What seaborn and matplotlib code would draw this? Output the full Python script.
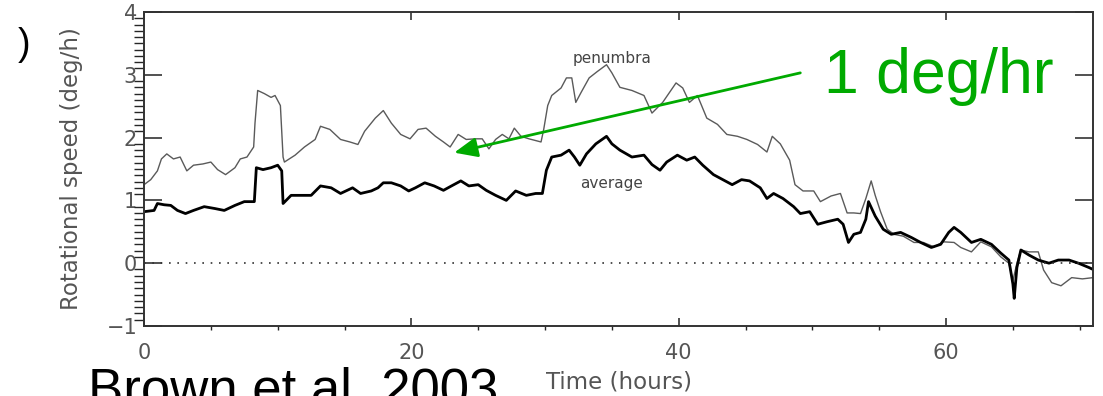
import numpy as np
import pandas as pd
import seaborn as sns
import matplotlib.pyplot as plt
from matplotlib.ticker import MultipleLocator

# values
time_pen = [0.0, 0.5, 1.0, 1.3, 1.7, 2.2, 2.7, 3.2, 3.7, 4.4, 5.0, 5.5, 6.1, 6.8, 7.2, 7.7, 8.2, 8.3, 8.5,
            9.0, 9.5, 9.8, 10.2, 10.4, 10.5, 11.3, 12.0, 12.8, 13.2, 13.9, 14.7, 15.4, 16.0, 16.5, 17.3,
            17.9, 18.5, 19.2, 19.9, 20.5, 21.1, 21.8, 22.4, 22.9, 23.5, 24.1, 24.8, 25.3, 25.8, 26.3,
            26.8, 27.3, 27.7, 28.2, 28.8, 29.7, 29.9, 30.2, 30.5, 31.2, 31.6, 32.0, 32.3, 32.7, 33.3,
            33.9, 34.6, 35.0, 35.6, 36.5, 37.4, 38.0, 38.8, 39.8, 40.3, 40.8, 41.4, 42.1, 42.9, 43.6,
            44.4, 45.1, 45.9, 46.6, 47.0, 47.6, 48.3, 48.7, 49.3, 50.1, 50.6, 51.4, 52.1, 52.6, 53.1,
            53.6, 54.0, 54.4, 54.7, 55.1, 55.6, 56.1, 56.8, 57.6, 58.3, 59.1, 59.8, 60.6, 61.1, 61.9,
            62.6, 63.4, 64.1, 64.7, 65.0, 65.3, 65.6, 66.2, 66.9, 67.3, 67.9, 68.6, 69.4, 70.2, 71.0]
penumbra = [1.25, 1.33, 1.47, 1.66, 1.74, 1.66, 1.69, 1.47, 1.56, 1.58, 1.61, 1.49, 1.41, 1.52, 1.66, 1.69,
            1.85, 2.23, 2.75, 2.70, 2.64, 2.67, 2.51, 1.69, 1.61, 1.72, 1.85, 1.97, 2.18, 2.13, 1.97,
            1.93, 1.89, 2.10, 2.31, 2.43, 2.23, 2.05, 1.98, 2.13, 2.15, 2.02, 1.93, 1.85, 2.05, 1.97,
            1.98, 1.98, 1.82, 1.97, 2.05, 1.98, 2.15, 2.02, 1.98, 1.93, 2.13, 2.51, 2.67, 2.79, 2.95,
            2.95, 2.56, 2.72, 2.95, 3.05, 3.16, 3.03, 2.80, 2.75, 2.67, 2.39, 2.56, 2.87, 2.79, 2.56,
            2.67, 2.31, 2.21, 2.05, 2.02, 1.97, 1.89, 1.77, 2.02, 1.90, 1.64, 1.25, 1.15, 1.15, 0.98,
            1.07, 1.11, 0.80, 0.80, 0.79, 1.03, 1.31, 1.08, 0.82, 0.54, 0.46, 0.43, 0.33, 0.33, 0.26,
            0.34, 0.33, 0.25, 0.18, 0.34, 0.26, 0.10, 0.00, -0.28, 0.00, 0.21, 0.18, 0.18, -0.11, -0.31,
            -0.36, -0.23, -0.25, -0.23]

time_avg = [0.0, 0.75, 1.0, 1.5, 2.0, 2.5, 3.1, 3.7, 4.5, 5.3, 6.0, 6.8, 7.5, 8.25, 8.4, 8.9, 9.5, 10.0,
            10.3, 10.4, 11.0, 11.7, 12.5, 13.2, 14.0, 14.7, 15.6, 16.2, 17.0, 17.5, 17.9, 18.5, 19.2,
            19.8, 20.3, 21.0, 21.7, 22.4, 23.0, 23.7, 24.3, 25.0, 25.6, 26.3, 27.1, 27.8, 28.6, 29.3,
            29.8, 30.1, 30.5, 31.2, 31.8, 32.2, 32.6, 33.1, 33.8, 34.6, 35.0, 35.6, 36.5, 37.4, 38.0,
            38.6, 39.1, 39.9, 40.6, 41.2, 41.8, 42.6, 43.3, 44.0, 44.7, 45.3, 46.1, 46.6, 47.1, 47.8,
            48.6, 49.1, 49.8, 50.4, 51.1, 51.9, 52.3, 52.7, 53.1, 53.6, 54.0, 54.2, 54.7, 55.3, 55.9,
            56.6, 57.4, 58.1, 58.9, 59.6, 60.2, 60.6, 61.1, 61.9, 62.6, 63.4, 64.1, 64.7, 65.0, 65.1,
            65.3, 65.6, 66.2, 66.9, 67.7, 68.4, 69.2, 69.9, 70.7, 71.0]
average = [0.82, 0.84, 0.95, 0.93, 0.92, 0.84, 0.79, 0.84, 0.90, 0.87, 0.84, 0.92, 0.98, 0.98, 1.52, 1.49,
           1.52, 1.56, 1.47, 0.95, 1.08, 1.08, 1.08, 1.23, 1.20, 1.11, 1.20, 1.11, 1.15, 1.20, 1.28,
           1.28, 1.23, 1.15, 1.20, 1.28, 1.23, 1.16, 1.23, 1.31, 1.23, 1.25, 1.16, 1.08, 1.00, 1.15,
           1.08, 1.11, 1.11, 1.48, 1.69, 1.72, 1.80, 1.69, 1.56, 1.74, 1.90, 2.02, 1.90, 1.80, 1.69,
           1.72, 1.57, 1.48, 1.61, 1.72, 1.64, 1.69, 1.56, 1.41, 1.33, 1.25, 1.33, 1.31, 1.20, 1.03,
           1.11, 1.03, 0.90, 0.79, 0.82, 0.62, 0.66, 0.70, 0.62, 0.33, 0.46, 0.49, 0.70, 0.98, 0.75,
           0.54, 0.46, 0.49, 0.41, 0.33, 0.25, 0.30, 0.49, 0.57, 0.49, 0.33, 0.38, 0.30, 0.16, 0.05,
           -0.33, -0.56, -0.07, 0.21, 0.13, 0.05, 0.00, 0.05, 0.05, 0.00, -0.07, -0.10]

df_pen = pd.DataFrame({'Time': time_pen, 'Speed': penumbra})
df_avg = pd.DataFrame({'Time': time_avg, 'Speed': average})

sns.set_style('ticks')
plt.rcParams['font.family'] = ['DejaVu Sans']

fig = plt.figure(figsize=(11.03, 3.96), dpi=100)
ax = fig.add_axes([0.1306, 0.1768, 0.8604, 0.793])

sns.lineplot(data=df_pen, x='Time', y='Speed', color='#5a5a5a', lw=1.0, estimator=None, ax=ax)
sns.lineplot(data=df_avg, x='Time', y='Speed', color='black', lw=2.0, estimator=None, ax=ax)
ax.axhline(0, color='#333333', lw=1.2, ls=(0, (1, 4)))

ax.set_xlim(0, 71)
ax.set_ylim(-1, 4)
ax.xaxis.set_major_locator(MultipleLocator(20))
ax.xaxis.set_minor_locator(MultipleLocator(5))
ax.yaxis.set_major_locator(MultipleLocator(1))
ax.yaxis.set_minor_locator(MultipleLocator(0.1))

ax.tick_params(direction='in', top=True, right=True, colors='#333333', labelcolor='#555555', labelsize=15)
ax.tick_params(axis='y', which='major', length=13, width=1.2, pad=5)
ax.tick_params(axis='y', which='minor', length=7, width=1.0)
ax.tick_params(axis='x', which='major', length=6, width=1.2, pad=12)
ax.tick_params(axis='x', which='minor', length=3, width=1.0)
for s in ax.spines.values():
    s.set_color('#333333')
    s.set_linewidth(1.4)

ax.set_xlabel('Time (hours)', fontsize=16.5, color='#555555', labelpad=6)
ax.set_ylabel('Rotational speed (deg/h)', fontsize=16.5, color='#555555', labelpad=17)

ax.text(35.0, 3.26, 'penumbra', fontsize=11, color='#444444', ha='center', va='center')
ax.text(35.0, 1.27, 'average', fontsize=11, color='#444444', ha='center', va='center')

# green annotation
ax.annotate('', xy=(23.0, 1.75), xytext=(49.3, 3.04),
            arrowprops=dict(arrowstyle='-|>,head_length=1.4,head_width=0.6', color='#00aa00', lw=2))
ax.text(50.9, 2.71, '1 deg/hr', fontsize=45, color='#00aa00', family='Liberation Sans',
        ha='left', va='baseline')

fig.text(0.0798, -0.023, 'Brown et al. 2003', fontsize=38, color='black', family='Liberation Sans',
         ha='left', va='baseline')
fig.text(0.016, 1 - 45 / 396, ')', fontsize=27, color='black', family='Liberation Sans',
         ha='left', va='center')

fig.savefig('out.png', dpi=100)
